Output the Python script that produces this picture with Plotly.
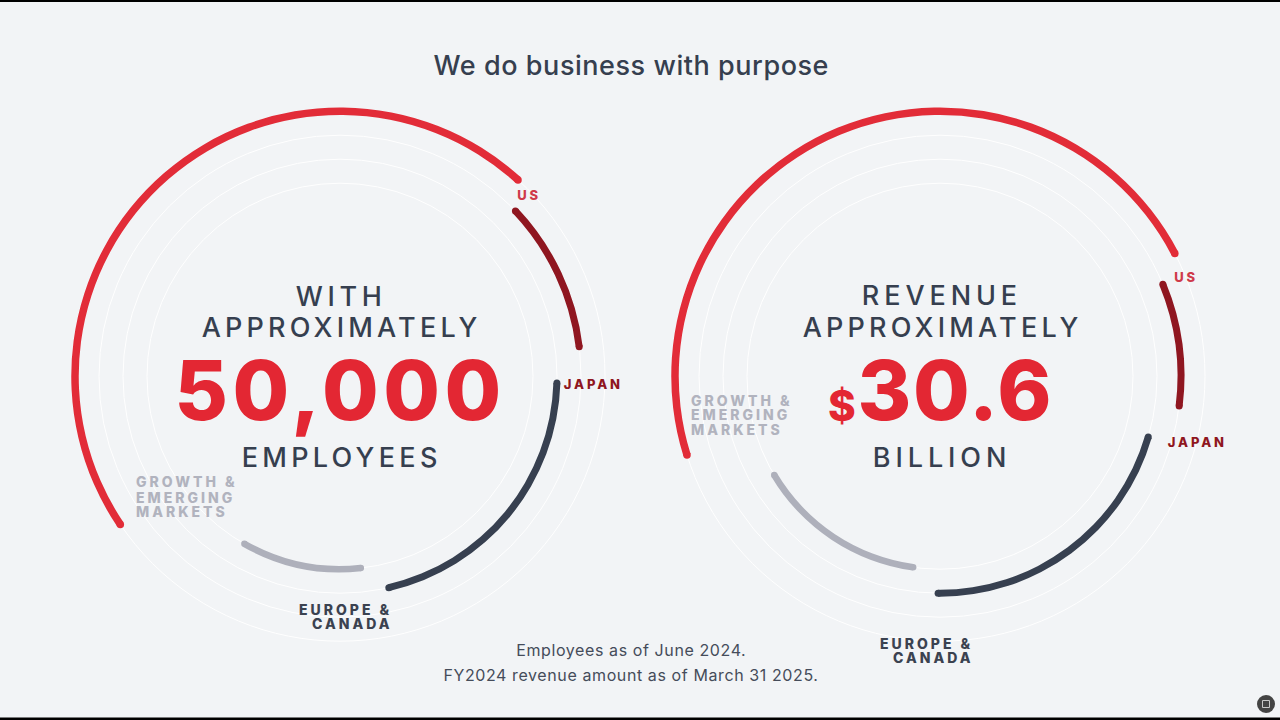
import json
import plotly.graph_objects as go

# ---- data ----
regions = ["US", "Japan", "Europe & Canada", "Growth & Emerging Markets"]
ring_radius = [265, 241, 217, 193]
employees_start = [42.2, 46.7, 91.8, 173.8]
employees_end = [-124.0, 83.0, 167.0, 209.7]
revenue_start = [62.4, 67.6, 106.3, 188.0]
revenue_end = [-107.3, 97.1, 180.5, 239.2]
arc_colors = ["#e22c38", "#8f1620", "#374050", "#aeb0bb"]
arc_width = [7.5, 7, 7, 6.5]

BG = "#f2f4f6"
INK = "#363f4f"
RED = "#e32733"
FONT = "Inter"
PX_RADIUS = 280
CENTERS = {"polar": (340, 376.2), "polar2": (940, 376.2)}


def add_arcs(fig, subplot, starts, ends):
    for i in range(len(regions)):
        fig.add_trace(go.Barpolar(
            subplot=subplot, name=regions[i], showlegend=False,
            theta=[(starts[i] + ends[i]) / 2], width=[abs(ends[i] - starts[i])],
            base=[ring_radius[i] - arc_width[i] / 2], r=[arc_width[i]],
            marker=dict(color=arc_colors[i], line=dict(width=0)),
        ))
        fig.add_trace(go.Scatterpolar(
            subplot=subplot, mode="markers", showlegend=False,
            theta=[starts[i], ends[i]], r=[ring_radius[i]] * 2,
            marker=dict(size=arc_width[i], color=arc_colors[i], line=dict(width=0)),
        ))


fig = go.Figure()
add_arcs(fig, "polar", employees_start, employees_end)
add_arcs(fig, "polar2", revenue_start, revenue_end)


def polar_layout(center):
    cx, cy = center
    return dict(
        domain=dict(x=[(cx - PX_RADIUS) / 1280, (cx + PX_RADIUS) / 1280],
                    y=[1 - (cy + PX_RADIUS) / 720, 1 - (cy - PX_RADIUS) / 720]),
        bgcolor="rgba(0,0,0,0)",
        barmode="overlay",
        radialaxis=dict(range=[0, PX_RADIUS], tickvals=ring_radius, showticklabels=False,
                        ticks="", showline=False, gridcolor="#ffffff", gridwidth=1.45),
        angularaxis=dict(visible=False, rotation=90, direction="clockwise"),
    )


# text, x, y, anchor, size, weight, colour, letter spacing
labels = [
    ("We do business with purpose", 631, 65, "center", 27, 500, INK, 0.55),
    ("WITH", 341, 296, "center", 27, 450, INK, 4.6),
    ("APPROXIMATELY", 341, 328, "center", 27, 450, INK, 4.2),
    ("50,000", 339.5, 390, "center", 82, 800, RED, 4.5),
    ("EMPLOYEES", 341, 457, "center", 27, 450, INK, 4.3),
    ("US", 528.5, 195, "center", 13, 800, "#cf3a4a", 2.8),
    ("JAPAN", 593, 384, "center", 13, 800, "#8f1620", 2.9),
    ("GROWTH &", 134, 482, "left", 14, 800, "#b1b3be", 3.0),
    ("EMERGING", 134, 497, "left", 14, 800, "#b1b3be", 3.0),
    ("MARKETS", 134, 511, "left", 14, 800, "#b1b3be", 3.0),
    ("EUROPE &", 394.5, 609, "right", 14, 800, "#3b4250", 3.0),
    ("CANADA", 394.5, 623, "right", 14, 800, "#3b4250", 3.0),
    ("REVENUE", 942, 295, "center", 27, 450, INK, 4.9),
    ("APPROXIMATELY", 942, 328, "center", 27, 450, INK, 4.2),
    ("$", 842, 405, "center", 42, 800, RED, 0),
    ("30.6", 955, 390, "center", 82, 800, RED, 1.8),
    ("BILLION", 942, 457, "center", 27, 450, INK, 4.9),
    ("US", 1185.5, 277, "center", 13, 800, "#cf3a4a", 2.8),
    ("JAPAN", 1197, 442, "center", 13, 800, "#8f1620", 2.9),
    ("GROWTH &", 689, 400, "left", 14, 800, "#b1b3be", 3.0),
    ("EMERGING", 689, 415, "left", 14, 800, "#b1b3be", 3.0),
    ("MARKETS", 689, 429, "left", 14, 800, "#b1b3be", 3.0),
    ("EUROPE &", 976, 643, "right", 14, 800, "#3b4250", 3.0),
    ("CANADA", 976, 657, "right", 14, 800, "#3b4250", 3.0),
    ("Employees as of June 2024.", 631, 650, "center", 16, 400, "#454c5a", 0.6),
    ("FY2024 revenue amount as of March 31 2025.", 631, 675, "center", 16, 400, "#454c5a", 0.6),
]

annotations = [
    dict(text=t, x=x / 1280, y=1 - y / 720, xref="paper", yref="paper",
         xanchor=a, yanchor="middle", showarrow=False, align=a,
         font=dict(family=FONT, size=s, weight=w, color=c))
    for t, x, y, a, s, w, c, _ in labels
]

shapes = [
    dict(type="rect", xref="paper", yref="paper", x0=0, x1=1, y0=1 - 2 / 720, y1=1,
         fillcolor="#000000", line_width=0),
    dict(type="rect", xref="paper", yref="paper", x0=0, x1=1, y0=0, y1=2.5 / 720,
         fillcolor="#000000", line_width=0),
    dict(type="circle", xref="paper", yref="paper", x0=1257 / 1280, x1=1275 / 1280,
         y0=1 - 713 / 720, y1=1 - 695 / 720, fillcolor="#444444", line_width=0),
    dict(type="rect", xref="paper", yref="paper", x0=1262.5 / 1280, x1=1269.5 / 1280,
         y0=1 - 707.5 / 720, y1=1 - 700.5 / 720, fillcolor="rgba(0,0,0,0)",
         line=dict(color="#c8c8c8", width=1)),
]

fig.update_layout(
    width=1280, height=720, autosize=False,
    margin=dict(l=0, r=0, t=0, b=0),
    paper_bgcolor=BG, plot_bgcolor=BG,
    showlegend=False,
    polar=polar_layout(CENTERS["polar"]),
    polar2=polar_layout(CENTERS["polar2"]),
    annotations=annotations,
    shapes=shapes,
)

spacing = json.dumps([l[7] for l in labels])
post = """
document.body.style.margin = '0';
document.body.style.overflow = 'hidden';
var sp = %s;
document.querySelectorAll('.annotation').forEach(function (g) {
  var i = +g.getAttribute('data-index');
  var t = g.querySelector('text');
  if (t) { t.style.letterSpacing = sp[i] + 'px'; }
});
""" % spacing

fig.write_html("out.html", post_script=post, config={"displayModeBar": False})
